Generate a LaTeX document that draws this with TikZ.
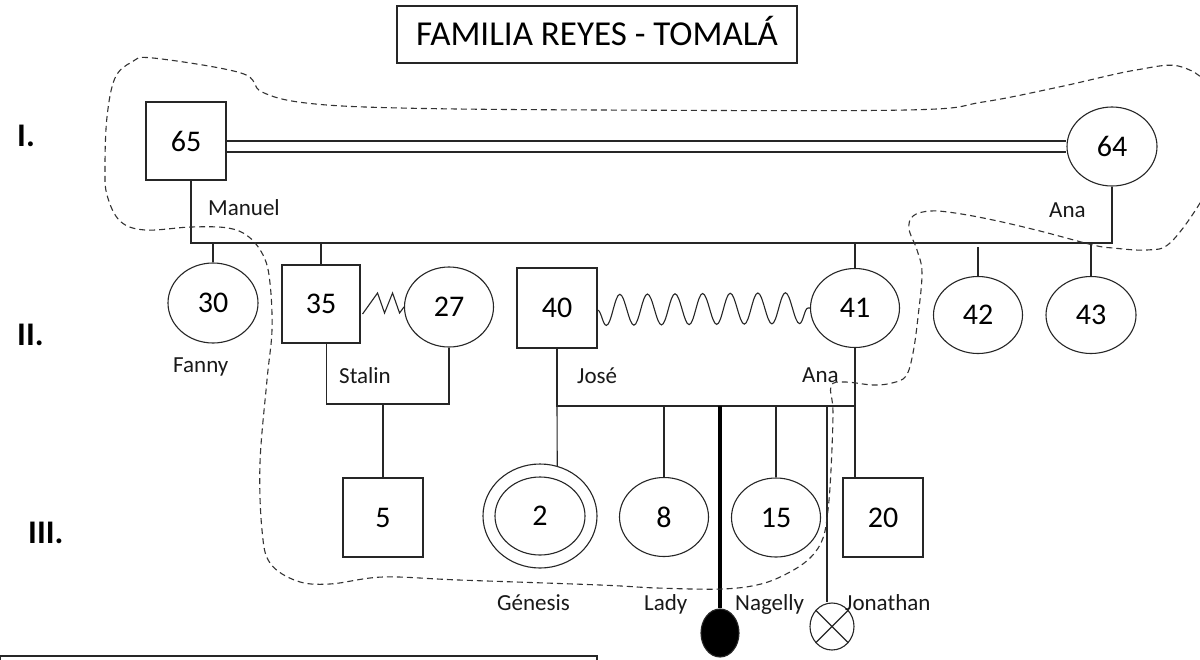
\documentclass[tikz,border=0pt]{standalone}
\usepackage{fontspec}
\setmainfont{Carlito}
\usetikzlibrary{shapes.geometric,decorations.pathmorphing}
\newcommand\numsize{\fontsize{30}{30}\selectfont}
\newcommand\lblsize{\fontsize{23}{23}\selectfont}
\tikzset{
  ln/.style={draw=black!85, line width=1.1pt},
  male/.style={ln, rectangle, inner sep=0pt, minimum width=79pt, minimum height=79pt, font=\numsize},
  female/.style={ln, ellipse, inner sep=0pt, minimum width=89pt, minimum height=79pt, font=\numsize},
  lbl/.style={anchor=base west, inner sep=0pt, font=\lblsize, text=black!90},
  genlbl/.style={anchor=base west, inner sep=0pt, font=\bfseries\fontsize{33}{33}\selectfont},
  kinline/.style={draw=black!80, line width=1.1pt, dash pattern=on 6pt off 4pt},
}
\begin{document}
\begin{tikzpicture}[x=1pt, y=-1pt]
\useasboundingbox (0,0) rectangle (1200,659);
\fill[white] (0,0) rectangle (1200,659);
\clip (0,0) rectangle (1200,659);

% title
\node[ln, rectangle, minimum width=400pt, minimum height=57pt, text height=22pt, text depth=0pt,
      font=\fontsize{35}{35}\selectfont] (title) at (597,34.5) {FAMILIA REYES - TOMAL\'A};

% generation numbers
\node[genlbl] (g1) at (17,146) {I.};
\node[genlbl] (g2) at (17,345) {II.};
\node[genlbl] (g3) at (28,543) {III.};

% generation I
\node[male, minimum width=80pt, minimum height=78pt] (n65) at (186,141) {65};
\node[female, minimum width=90pt] (n64) at (1112,146.5) {64};

% generation II
\node[female, minimum width=90pt, minimum height=80pt] (n30) at (213,303) {30};
\node[male, minimum width=78pt, minimum height=78pt] (n35) at (321,304) {35};
\node[female, minimum height=80pt] (n27) at (449,307) {27};
\node[male, minimum width=80pt, minimum height=80pt] (n40) at (557,308) {40};
\node[female] (n41) at (855,308) {41};
\node[female, minimum height=77pt] (n42) at (978,315) {42};
\node[female, minimum width=90pt, minimum height=77pt] (n43) at (1091,315) {43};

% generation III
\node[male, minimum width=80pt] (n5) at (383,517.5) {5};
\node[ln, ellipse, inner sep=0pt, minimum width=114pt, minimum height=104pt] (genO) at (540,516) {};
\node[female, minimum width=90pt, minimum height=78pt] (genI) at (540,516) {2};
\node[female] (n8) at (664,517) {8};
\node[female] (n15) at (776,517.5) {15};
\node[male, minimum width=80pt] (n20) at (883,517.5) {20};
\node[ln, ellipse, fill=black, inner sep=0pt, minimum width=38pt, minimum height=48pt] (nd) at (720,633) {};
\node[ln, ellipse, inner sep=0pt, minimum width=44pt, minimum height=47pt] (nj) at (832,626.5) {};
\draw[ln] (nj.45) -- (nj.225) (nj.135) -- (nj.315);

% marriage of 65 and 64
\draw[ln] (n65.east) -- (n65.east -| n64.west);
\draw[ln] ([yshift=-11pt]n65.east) -- ([yshift=-11pt]n65.east -| n64.west);

% sibship of generation II
\coordinate (sL) at (191,243);
\coordinate (sR) at (1112,243);
\draw[ln] (n65.south -| sL) -- (sL) -- (sR) -- (n64.south);
\draw[ln] (n30.north |- sL) -- (n30.north);
\draw[ln] (n35.north |- sL) -- (n35.north);
\draw[ln] (n41.north |- sL) -- (n41.north);
\draw[ln] ([yshift=-4pt]n42.north |- sL) -- (n42.north);
\draw[ln] (n43.north |- sL) -- (n43.north);

% conflictive unions
\draw[ln] (n35.east) ++(2,10) -- ++(15,-21) -- ++(7,20) -- ++(8,-20) -- ++(7,20) -- (n27.west);
\draw[ln, decorate, decoration={snake, amplitude=15.5pt, segment length=27.6pt, mirror}]
  ([yshift=-2pt]n40.east) -- (n41.west);

% Stalin's family
\coordinate (cS1) at (326.5,404);
\coordinate (cS2) at (449,404);
\draw[ln] (n35.south -| cS1) -- (cS1) -- (cS2) -- (n27.south);
\draw[ln] (n5.north |- cS1) -- (n5.north);

% Jose's family
\coordinate (cJ1) at (557,406);
\coordinate (cJ2) at (855,406);
\draw[ln] (n40.south) -- (cJ1) -- (cJ2);
\draw[ln] (n41.south) -- (n41.south |- n20.north);
\draw[ln] (cJ1) -- (genO.71);
\draw[ln] (n8.north |- cJ1) -- (n8.north);
\draw[ln] (n15.north |- cJ1) -- (n15.north);
\draw[black, line width=4pt] (nd.north |- cJ1) -- (nd.north);
\draw[ln] ([xshift=-5pt]nj.north |- cJ1) -- ([xshift=-5pt]nj.north);

% names
\node[lbl] (lManuel) at (208,215) {Manuel};
\node[lbl] (lAna1) at (1049,217) {Ana};
\node[lbl] (lFanny) at (173,372) {Fanny};
\node[lbl] (lStalin) at (339,383) {Stalin};
\node[lbl] (lJose) at (577,383) {Jos\'e};
\node[lbl] (lAna2) at (802,382) {Ana};
\node[lbl] (lGen) at (497,610) {G\'enesis};
\node[lbl] (lLady) at (644,610) {Lady};
\node[lbl] (lNag) at (735,610) {Nagelly};
\node[lbl] (lJon) at (845,610) {Jonathan};

% household boundary
\draw[kinline] plot[smooth cycle, tension=0.6] coordinates {
  (153,58) (241,73) (262,92) (306,103) (400,108) (600,110) (906,110) (983,102)
  (1059,87) (1136,70) (1182,67) (1212,95) (1214,170) (1200,203) (1170,243)
  (1147,250) (1113,248) (1093,245) (1040,231) (993,220) (955,213) (930,211)
  (913,216) (909,229) (917,250) (922,273) (918,317) (913,353) (906,376)
  (892,383) (873,385) (845,382) (831,386) (833,412) (831,470) (828,510)
  (823,538) (811,557) (790,572) (761,584) (722,589) (657,588) (600,585)
  (459,580) (383,577) (330,584) (297,581) (270,563) (262,530) (260,463)
  (267,380) (272,330) (270,283) (264,257) (249,237) (228,228) (191,227)
  (145,230) (120,221) (107,195) (105,167) (107,117) (115,78) (132,62)
};

% frame at the foot of the page
\draw[ln] (0.6,700) -- (0.6,656) -- (597,656) -- (597,700);
\end{tikzpicture}
\end{document}
